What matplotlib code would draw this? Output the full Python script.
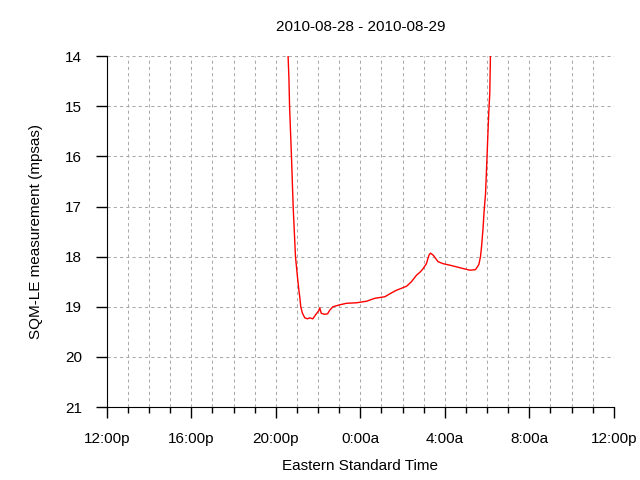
import matplotlib
matplotlib.use("Agg")
import matplotlib.pyplot as plt
from matplotlib.ticker import MultipleLocator

plt.rcParams['font.family'] = ['Liberation Sans', 'DejaVu Sans']

# hours after 12:00 noon on 2010-08-28
hours = [8.50, 8.58, 8.62, 8.65, 8.74, 8.82, 8.93, 9.03, 9.10, 9.14, 9.18, 9.26,
         9.37, 9.50, 9.60, 9.75, 9.90, 10.03, 10.08, 10.15, 10.30, 10.45, 10.55,
         10.70, 11.03, 11.35, 11.82, 12.29, 12.69, 13.16, 13.40, 13.71, 14.19,
         14.42, 14.66, 14.85, 14.97, 15.13, 15.25, 15.32, 15.45, 15.68, 15.92,
         16.24, 16.71, 17.18, 17.45, 17.61, 17.69, 17.74, 17.81, 17.86, 17.93,
         18.02, 18.08, 18.13, 18.16, 18.20]
mpsas = [13.6, 14.0, 14.45, 15.0, 16.0, 17.0, 18.0, 18.43, 18.7, 18.83, 19.0, 19.13,
         19.22, 19.24, 19.22, 19.24, 19.15, 19.08, 19.02, 19.13, 19.15, 19.14, 19.07,
         19.0, 18.96, 18.93, 18.92, 18.89, 18.83, 18.80, 18.74, 18.67, 18.59,
         18.50, 18.37, 18.30, 18.24, 18.14, 17.97, 17.93, 17.97, 18.10, 18.14,
         18.17, 18.22, 18.27, 18.26, 18.16, 18.0, 17.8, 17.44, 17.1, 16.74,
         15.78, 15.14, 14.74, 14.0, 13.5]

tick_hours = [0, 4, 8, 12, 16, 20, 24]
tick_labels = ['12:00p', '16:00p', '20:00p', '0:00a', '4:00a', '8:00a', '12:00p']

fig = plt.figure(figsize=(6.4, 4.8), dpi=100)
ax = fig.add_axes([0.167, 0.152, 0.792, 0.731])

ax.plot(hours, mpsas, color='red', lw=1.0)

ax.set_xlim(0, 24)
ax.set_ylim(21, 14)
ax.set_xticks(tick_hours)
ax.set_xticklabels(tick_labels)
ax.xaxis.set_minor_locator(MultipleLocator(1))
ax.set_yticks(range(14, 22))

ax.grid(True, which='both', axis='x', color='#aaaaaa', lw=0.75, linestyle=(0, (3, 3)))
ax.grid(True, which='major', axis='y', color='#aaaaaa', lw=0.75, linestyle=(0, (3, 3)))

for s in ['top', 'right']:
    ax.spines[s].set_visible(False)
ax.tick_params(which='major', direction='out', length=8, width=1, labelsize=11, pad=10)
ax.tick_params(which='minor', direction='out', length=4, width=1)

ax.set_xlabel('Eastern Standard Time', fontsize=11, labelpad=9)
ax.set_ylabel('SQM-LE measurement (mpsas)', fontsize=11, labelpad=16)
ax.set_title('2010-08-28 - 2010-08-29', fontsize=11, pad=18)

fig.savefig('out.png', dpi=100)
